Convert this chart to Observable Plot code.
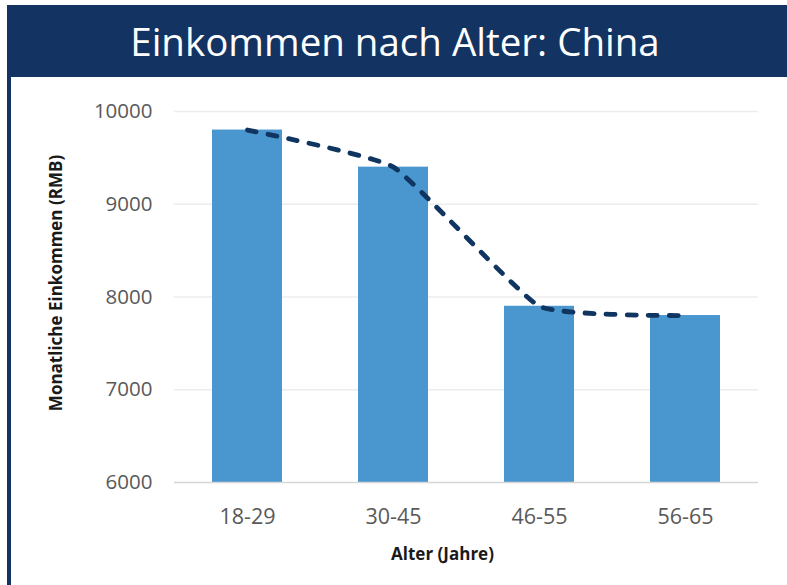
<!DOCTYPE html>
<html>
<head>
<meta charset="utf-8">
<script src="https://cdn.jsdelivr.net/npm/d3@7"></script>
<script src="https://cdn.jsdelivr.net/npm/@observablehq/plot@0.6"></script>
<style>
  html, body { margin: 0; padding: 0; background: #fff; width: 787px; height: 585px; overflow: hidden; }
  #wrap { position: absolute; left: 7px; top: 5px; width: 780px; height: 580px; }
  #title { background: #133462; color: #fff; height: 72px; font-family: "Open Sans", sans-serif; font-size: 38.5px; text-align: center; line-height: 72px; padding-right: 4px; }
  #chart { border-left: 4px solid #133462; height: 508px; }
  #chart svg { display: block; }
</style>
</head>
<body>
<div id="wrap">
  <div id="title">Einkommen nach Alter: China</div>
  <div id="chart"></div>
</div>
<script>
const ageGroups = ["18-29", "30-45", "46-55", "56-65"];
const income = [9800, 9400, 7900, 7800];
const yTicks = [6000, 7000, 8000, 9000, 10000];

const data = ageGroups.map((a, i) => ({age: a, income: income[i]}));
const yMin = d3.min(yTicks), yMax = d3.max(yTicks);

const chart = Plot.plot({
  width: 776,
  height: 508,
  marginLeft: 163,
  marginRight: 29,
  marginTop: 34,
  marginBottom: 103,
  style: {fontFamily: "Open Sans, sans-serif", background: "#fff"},
  x: {domain: ageGroups, paddingInner: 0.52, paddingOuter: 0.26, label: null},
  y: {domain: [yMin, yMax], label: null},
  marks: [
    Plot.ruleY(yTicks.filter(t => t !== yMin), {stroke: "#ececec", strokeWidth: 1.5}),
    Plot.barY(data, {x: "age", y1: yMin, y2: "income", fill: "#4a96cf"}),
    Plot.ruleY([yMin], {stroke: "#d6d6d6", strokeWidth: 1.5}),
    Plot.line(data, {x: "age", y: "income", stroke: "#0f3560", strokeWidth: 4.8, strokeDasharray: "9,12", strokeLinecap: "round", curve: "cardinal", tension: 0.6}),
    Plot.axisY({ticks: yTicks, tickSize: 0, tickPadding: 22, fontSize: 20.5, fill: "#595959", tickFormat: d => String(d)}),
    Plot.axisX({tickSize: 0, tickPadding: 26, fontSize: 21.5, fill: "#595959"}),
    Plot.text(["Monatliche Einkommen (RMB)"], {frameAnchor: "left", textAnchor: "middle", dx: -118, dy: -14, rotate: -90, fontSize: 17, fontWeight: "bold", fill: "#1a1a1a"}),
    Plot.text(["Alter (Jahre)"], {frameAnchor: "bottom", dx: -24, dy: 77, fontSize: 17, fontWeight: "bold", fill: "#1a1a1a"})
  ]
});
document.getElementById("chart").appendChild(chart);
</script>
</body>
</html>
